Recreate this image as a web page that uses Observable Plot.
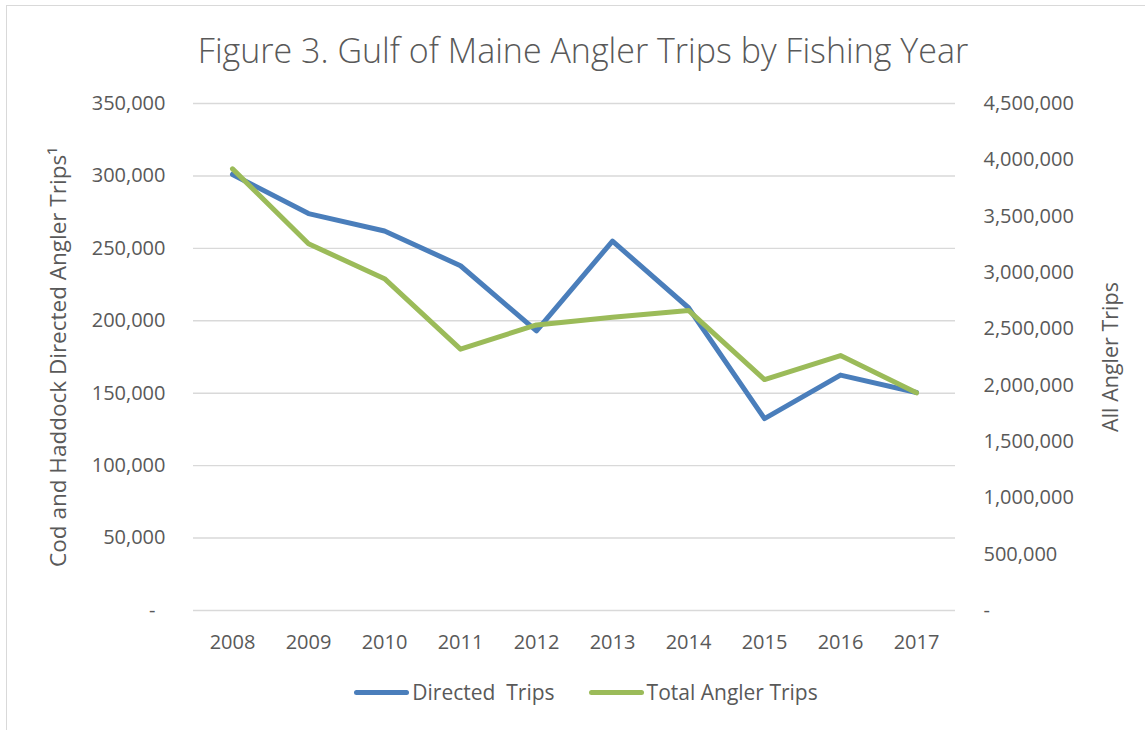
<!DOCTYPE html>
<html>
<head>
<meta charset="utf-8">
<script src="https://cdn.jsdelivr.net/npm/d3@7"></script>
<script src="https://cdn.jsdelivr.net/npm/@observablehq/plot@0.6"></script>
<style>
  html, body { margin: 0; padding: 0; background: #fff; }
  #wrap { position: relative; width: 1145px; height: 730px; overflow: hidden; font-family: "Open Sans", sans-serif; color: #595959; }
  #frame { position: absolute; left: 6px; top: 5px; width: 1200px; height: 800px; border-left: 1.5px solid #d9d9d9; border-top: 1.5px solid #d9d9d9; }
  #title { position: absolute; left: 0; top: 24px; width: 1166px; text-align: center; font-size: 34px; font-weight: 300; line-height: 52px; white-space: nowrap; }
  #chart { position: absolute; left: 0; top: 85px; }
  #legend { position: absolute; left: 0; top: 678px; width: 1172px; display: flex; justify-content: center; align-items: center; font-size: 21px; white-space: pre; }
  .item { display: flex; align-items: center; margin: 0 17px; }
  .sw { display: inline-block; width: 55px; height: 5px; border-radius: 3px; margin-right: 3px; }
</style>
</head>
<body>
<div id="wrap">
  <div id="frame"></div>
  <div id="title"></div>
  <div id="chart"></div>
  <div id="legend"></div>
</div>
<script>
const titleText = "Figure 3. Gulf of Maine Angler Trips by Fishing Year";
const years = ["2008", "2009", "2010", "2011", "2012", "2013", "2014", "2015", "2016", "2017"];
const directedTrips = [301000, 274000, 262000, 238000, 193000, 255000, 209000, 132500, 162500, 150500];
const totalTrips = [3920000, 3255000, 2945000, 2320000, 2535000, 2603000, 2663000, 2050000, 2263000, 1932000];
const leftTicks = [0, 50000, 100000, 150000, 200000, 250000, 300000, 350000];
const rightTicks = [0, 500000, 1000000, 1500000, 2000000, 2500000, 3000000, 3500000, 4000000, 4500000];
const leftLabel = "Cod and Haddock Directed Angler Trips\u00b9";
const rightLabel = "All Angler Trips";
const seriesNames = ["Directed  Trips", "Total Angler Trips"];
const seriesColors = ["#4a7ebb", "#9bbb59"];

const leftMax = 350000, rightMax = 4500000;
const k = leftMax / rightMax;
const fmt = d3.format(",");

document.getElementById("title").textContent = titleText;

const chart = Plot.plot({
  width: 1145,
  height: 590,
  marginTop: 18,
  marginBottom: 65,
  marginLeft: 193,
  marginRight: 190,
  style: { fontFamily: "Open Sans, sans-serif", color: "#595959", background: "transparent", overflow: "visible" },
  x: { type: "point", domain: years, padding: 0.5, axis: null },
  y: { domain: [0, leftMax], axis: null },
  marks: [
    Plot.gridY(leftTicks, { stroke: "#d9d9d9", strokeOpacity: 1, strokeWidth: 1.4 }),
    Plot.axisY(leftTicks, {
      anchor: "left", tickSize: 0, tickPadding: 28, fontSize: 20, fill: "#595959", label: null,
      tickFormat: d => d === 0 ? "-\u2002" : fmt(d)
    }),
    Plot.axisY(rightTicks.map(v => v * k), {
      anchor: "right", tickSize: 0, tickPadding: 28, fontSize: 20, fill: "#595959", label: null,
      tickFormat: d => { const v = Math.round(d / k); return v === 0 ? "-" : fmt(v); }
    }),
    Plot.axisX(years, { anchor: "bottom", tickSize: 0, tickPadding: 24, fontSize: 20, fill: "#595959", label: null }),
    Plot.text([leftLabel], { frameAnchor: "left", dx: -135, rotate: -90, textAnchor: "middle", lineAnchor: "middle", fontSize: 22.5, fill: "#595959", text: d => d }),
    Plot.text([rightLabel], { frameAnchor: "right", dx: 156, rotate: -90, textAnchor: "middle", lineAnchor: "middle", fontSize: 21.5, fill: "#595959", text: d => d }),
    Plot.line(years, { x: d => d, y: (d, i) => directedTrips[i], stroke: seriesColors[0], strokeWidth: 5, strokeLinejoin: "round", strokeLinecap: "round" }),
    Plot.line(years, { x: d => d, y: (d, i) => totalTrips[i] * k, stroke: seriesColors[1], strokeWidth: 5, strokeLinejoin: "round", strokeLinecap: "round" })
  ]
});
document.getElementById("chart").appendChild(chart);

const legend = document.getElementById("legend");
seriesNames.forEach((name, i) => {
  const item = document.createElement("div");
  item.className = "item";
  const sw = document.createElement("span");
  sw.className = "sw";
  sw.style.background = seriesColors[i];
  const t = document.createElement("span");
  t.textContent = name;
  item.appendChild(sw);
  item.appendChild(t);
  legend.appendChild(item);
});
</script>
</body>
</html>
